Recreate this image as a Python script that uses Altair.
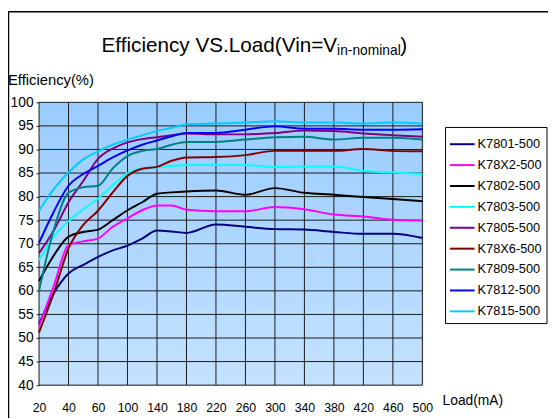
import json
import altair as alt
import pandas as pd

# ---- data ----
X_LABELS = ["20", "40", "60", "100", "140", "180", "220", "260", "300",
            "340", "380", "420", "460", "500"]
POS = [0, 0.5, 1, 1.5, 2, 2.5, 3, 3.5, 4, 4.5, 5, 6, 7, 8, 9, 10, 11, 12, 13]

SERIES = ["K7801-500", "K78X2-500", "K7802-500", "K7803-500", "K7805-500",
          "K78X6-500", "K7809-500", "K7812-500", "K7815-500"]
COLORS = ["#000080", "#FF00FF", "#000000", "#00FFFF", "#800080",
          "#800000", "#008080", "#0000FF", "#00CCFF"]

K7801 = [53.0, 59.5, 63.7, 65.5, 67.2, 68.6, 69.6, 71.1, 72.8, 72.6, 72.3, 74.1, 73.6, 73.1, 73.0, 72.5, 72.1, 72.1, 71.2]
K78X2 = [52.5, 61.0, 69.7, 70.5, 71.1, 73.6, 75.4, 77.1, 78.1, 78.1, 77.2, 76.9, 76.9, 77.8, 77.3, 76.2, 75.8, 75.1, 74.9]
K7802 = [62.1, 67.5, 71.5, 72.5, 73.0, 75.0, 77.1, 78.8, 80.6, 80.9, 81.1, 81.3, 80.4, 81.8, 80.8, 80.4, 79.9, 79.5, 79.0]
K7803 = [66.5, 71.5, 74.8, 77.3, 79.6, 82.4, 85.0, 85.9, 86.2, 86.5, 86.7, 86.7, 86.7, 86.3, 86.4, 86.4, 85.5, 85.1, 84.8]
K7805 = [68.0, 72.8, 78.8, 83.3, 88.0, 90.2, 91.5, 92.2, 92.6, 93.0, 93.4, 93.2, 93.2, 93.5, 94.0, 93.9, 93.4, 93.0, 92.7]
K78X6 = [51.2, 59.5, 69.0, 74.0, 77.0, 80.9, 84.4, 85.9, 86.3, 87.6, 88.3, 88.4, 88.8, 89.7, 89.7, 89.7, 90.1, 89.7, 89.6]
K7809 = [60.0, 73.0, 80.8, 82.0, 82.3, 86.0, 88.6, 89.7, 90.1, 91.0, 91.6, 91.6, 92.1, 92.6, 92.7, 92.1, 92.5, 92.5, 92.1]
K7812 = [70.2, 76.8, 82.3, 84.8, 86.5, 88.3, 89.8, 91.0, 91.9, 92.8, 93.5, 93.5, 94.2, 94.9, 94.4, 94.4, 94.2, 94.2, 94.3]
K7815 = [77.0, 81.6, 85.1, 87.9, 89.6, 91.0, 92.1, 93.0, 93.9, 94.6, 95.3, 95.5, 95.7, 96.0, 95.7, 95.7, 95.5, 95.7, 95.5]

Y_TICKS = list(range(40, 101, 5))
X_TICKS = list(range(len(X_LABELS)))

ALL = [K7801, K78X2, K7802, K7803, K7805, K78X6, K7809, K7812, K7815]
rows = []
for k, (name, vals) in enumerate(zip(SERIES, ALL)):
    for p, v in zip(POS, vals):
        rows.append({"series": name, "pos": p, "eff": v, "k": k})
df = pd.DataFrame(rows)

W, H = 389, 287
FONT = "Liberation Sans"
xs = alt.Scale(domain=[0, len(X_LABELS) - 1], nice=False, zero=False)
ys = alt.Scale(domain=[40, 100], nice=False, zero=False)

label_expr = json.dumps(X_LABELS) + "[datum.value]"
X_AXIS = alt.Axis(values=X_TICKS, labelExpr=label_expr, title=None,
                  grid=False, domain=False, ticks=False, labelOverlap=False,
                  labelFontSize=12.5, labelPadding=17, labelFlush=False,
                  labelColor="black", labelFont=FONT)
Y_AXIS = alt.Axis(values=Y_TICKS, title=None, grid=False, labelOverlap=False,
                  domain=False, ticks=True, tickSize=3, labelFlush=False,
                  tickColor="#1a1a1a", labelFontSize=14,
                  labelPadding=3, labelColor="black", labelFont=FONT)

one = pd.DataFrame({"a": [0]})

bg = alt.Chart(one).mark_rect(
    color=alt.Gradient(
        gradient="linear",
        stops=[alt.GradientStop(color="#99CCFF", offset=0),
               alt.GradientStop(color="#C4E2FF", offset=1)],
        x1=0, x2=0, y1=0, y2=1)
).encode(x=alt.value(0), x2=alt.value(W), y=alt.value(0), y2=alt.value(H))

vgrid = alt.Chart(pd.DataFrame({"pos": X_TICKS})).mark_rule(
    color="#1a1a1a", strokeWidth=1
).encode(x=alt.X("pos:Q", scale=xs, axis=X_AXIS))

hgrid = alt.Chart(pd.DataFrame({"eff": Y_TICKS})).mark_rule(
    color="#1a1a1a", strokeWidth=1
).encode(y=alt.Y("eff:Q", scale=ys, axis=Y_AXIS))

lines = alt.Chart(df).mark_line(interpolate="monotone", strokeWidth=2).encode(
    x=alt.X("pos:Q", scale=xs, axis=X_AXIS),
    y=alt.Y("eff:Q", scale=ys, axis=Y_AXIS),
    color=alt.Color("series:N", scale=alt.Scale(domain=SERIES, range=COLORS),
                    legend=alt.Legend(orient="none", legendX=412, legendY=25,
                                      title=None, strokeColor="black",
                                      fillColor="white", padding=4,
                                      symbolType="stroke", symbolStrokeWidth=2,
                                      symbolSize=625, rowPadding=0.2,
                                      labelFontSize=13, labelFont=FONT,
                                      labelColor="black", labelOffset=2)),
    order=alt.Order("k:Q"),
)

title_main = alt.Chart(one).mark_text(
    text="Efficiency VS.Load(Vin=V", font=FONT, fontSize=21, align="right",
    baseline="alphabetic", color="black"
).encode(x=alt.value(342 - 39.5), y=alt.value(50 - 100.7))
title_sub = alt.Chart(one).mark_text(
    text="in-nominal", font=FONT, fontSize=14, align="left",
    baseline="alphabetic", color="black"
).encode(x=alt.value(342 - 39.5), y=alt.value(53 - 100.7))
title_end = alt.Chart(one).mark_text(
    text=")", font=FONT, fontSize=21, align="left",
    baseline="alphabetic", color="black"
).encode(x=alt.value(406 - 39.5), y=alt.value(50 - 100.7))

ylab = alt.Chart(one).mark_text(
    text="Efficiency(%)", font=FONT, fontSize=15, align="left",
    baseline="alphabetic", color="black"
).encode(x=alt.value(8 - 39.5), y=alt.value(83 - 100.7))
xlab = alt.Chart(one).mark_text(
    text="Load(mA)", font=FONT, fontSize=14, align="left",
    baseline="alphabetic", color="black"
).encode(x=alt.value(449 - 39.5), y=alt.value(408 - 100.7))

frame_left = alt.Chart(one).mark_rule(color="black", strokeWidth=1.5).encode(
    x=alt.value(-31), y=alt.value(-92.2), y2=alt.value(H + 40))
frame_top = alt.Chart(one).mark_rule(color="black", strokeWidth=1.5).encode(
    x=alt.value(-31), x2=alt.value(W + 140), y=alt.value(-92))

chart = alt.layer(
    bg, vgrid, hgrid, lines, title_main, title_sub, title_end, ylab, xlab,
    frame_left, frame_top
).properties(
    width=W, height=H,
    autosize=alt.AutoSizeParams(type="none"),
    padding={"left": 31.5, "top": 92.7, "right": 127.5, "bottom": 30},
).configure_view(stroke=None).configure(font=FONT)

chart.save("out.html", embed_options={"renderer": "svg", "actions": False})
